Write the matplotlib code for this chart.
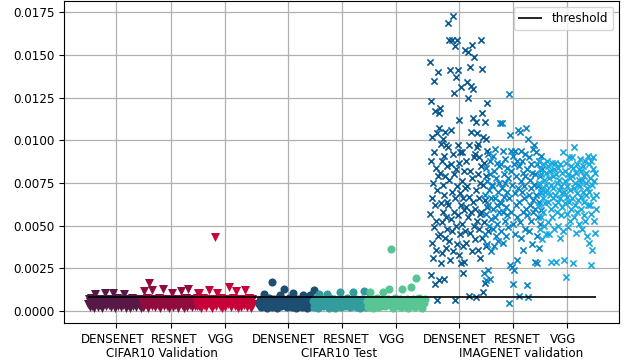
import numpy as np
import matplotlib.pyplot as plt
from matplotlib.ticker import FormatStrFormatter
from matplotlib.transforms import ScaledTranslation

models = ["DENSENET", "RESNET", "VGG"]
datasets = ["CIFAR10 Validation", "CIFAR10 Test", "IMAGENET validation"]
threshold = 0.00085

# scores, in units of 1e-4, listed roughly left to right in each strip
cifar_val_densenet = [4.2, 6.8, 2.1, 5.5, 7.4, 3.0, 6.1, 1.8, 10.0, 4.8,
                      7.0, 2.6, 5.2, 3.6, 6.6, 1.9, 7.3, 4.4, 10.5, 2.8,
                      6.0, 5.0, 3.3, 7.1, 2.2, 6.4, 10.5, 4.0, 1.7, 5.8,
                      7.5, 3.1, 4.6, 6.9, 2.4, 5.3, 3.8, 10.2, 6.2, 2.0,
                      7.2, 4.9, 3.4, 6.7, 1.6, 5.6, 7.6, 2.9, 4.3, 6.3,
                      2.3, 7.0, 5.1, 3.7, 6.5, 1.9, 4.7, 7.3, 2.7, 5.9]
cifar_val_resnet = [5.4, 2.5, 12.0, 6.9, 3.9, 7.4, 1.8, 16.6, 4.6, 6.2,
                    12.3, 3.2, 5.7, 7.1, 2.2, 4.9, 6.6, 3.5, 7.5, 1.7,
                    5.3, 6.8, 12.9, 2.8, 4.2, 7.2, 3.0, 5.9, 1.9, 6.4,
                    4.5, 10.5, 2.4, 7.0, 3.7, 5.6, 6.1, 2.0, 4.8, 7.3,
                    11.9, 3.3, 6.5, 1.6, 5.0, 7.6, 2.6, 12.9, 4.1, 6.0,
                    3.6, 7.1, 2.1, 5.5, 6.7, 3.1, 4.4, 7.4, 10.7, 2.9]
cifar_val_vgg = [6.3, 2.7, 7.2, 10.7, 4.5, 1.9, 5.8, 7.5, 3.4, 6.0,
                 2.3, 4.9, 7.0, 12.3, 3.7, 5.5, 1.8, 6.7, 4.1, 7.3,
                 43.5, 2.9, 10.7, 5.2, 6.5, 3.2, 7.4, 1.7, 4.7, 6.1,
                 2.5, 5.6, 7.1, 3.9, 13.9, 6.6, 2.1, 4.3, 7.6, 5.0,
                 3.0, 11.5, 6.2, 1.9, 7.0, 4.6, 2.6, 5.9, 7.3, 3.5,
                 12.3, 6.4, 2.2, 4.9, 7.5, 3.8, 5.4, 1.8, 6.8, 4.0]

cifar_test_densenet = [4.0, 6.6, 2.3, 7.2, 5.1, 10.0, 3.0, 6.2, 1.9, 5.6,
                       7.4, 3.6, 4.7, 17.2, 2.5, 6.9, 5.3, 3.3, 7.1, 1.8,
                       6.0, 4.4, 9.5, 2.8, 5.8, 7.3, 12.9, 3.9, 6.4, 2.1,
                       5.0, 7.5, 3.4, 6.1, 2.6, 10.4, 4.6, 7.0, 1.7, 5.5,
                       6.8, 3.1, 4.9, 7.3, 2.4, 9.5, 5.9, 3.7, 6.5, 2.0,
                       4.3, 7.1, 5.2, 9.5, 2.9, 6.3, 3.5, 12.3, 4.8, 7.0]
cifar_test_resnet = [5.7, 2.4, 7.0, 4.1, 6.4, 1.9, 9.8, 3.3, 5.4, 7.3,
                     2.7, 4.8, 6.7, 3.6, 9.8, 5.9, 2.0, 7.4, 4.3, 6.1,
                     3.0, 5.1, 7.2, 1.8, 4.6, 6.5, 3.8, 5.6, 11.0, 2.5,
                     7.1, 4.0, 6.3, 2.9, 5.3, 7.5, 3.4, 6.0, 2.2, 4.9,
                     6.8, 11.3, 3.1, 5.8, 7.2, 2.6, 4.4, 6.2, 1.7, 5.0,
                     7.0, 3.7, 11.7, 6.6, 2.3, 4.7, 5.5, 7.4, 3.2, 6.0]
cifar_test_vgg = [6.1, 2.6, 7.3, 11.3, 4.5, 5.8, 1.9, 6.9, 3.5, 5.2,
                  7.5, 2.2, 4.8, 6.4, 3.1, 7.0, 11.3, 5.5, 2.7, 6.2,
                  4.1, 7.2, 12.7, 3.4, 36.2, 5.9, 1.8, 6.7, 4.4, 7.4,
                  2.9, 5.3, 6.0, 3.8, 7.1, 2.3, 12.7, 4.7, 6.6, 3.0,
                  5.6, 7.3, 2.0, 4.2, 6.3, 14.2, 3.6, 7.0, 5.0, 2.5,
                  19.5, 6.8, 4.0, 7.5, 3.2, 5.7, 1.9, 6.5, 4.6, 7.2]

imagenet_densenet = [146, 57, 88, 21, 123, 66, 40, 102, 75, 31, 135, 49, 93, 16, 62, 117, 36, 84, 53, 6.4,
                     104, 71, 44, 140, 79, 18, 116,
                     107, 45, 81, 119, 28, 63, 98, 52, 88, 34, 74, 101, 58, 18.7, 91, 68, 43, 105, 79, 37,
                     55, 97, 64, 48, 85,
                     169, 62, 96, 41, 159, 77, 30, 141, 54, 106, 86, 159, 47, 70, 173, 35, 92, 128, 58, 80,
                     6.4, 155, 66, 137, 50, 83, 159, 39, 73, 97,
                     141, 56, 87, 33, 112, 69, 45, 93, 62, 28, 131, 76, 51, 93, 38, 66, 22, 82, 59, 29, 72, 47,
                     153, 61, 88, 40, 134, 73, 152, 55, 125, 8.8, 97, 67, 143, 46, 82, 132, 58, 105, 35, 156,
                     78, 113, 64, 130, 50, 90,
                     149, 60, 92, 42, 111, 71, 8.2, 104, 53, 96, 80, 36, 98, 66, 48, 90, 57, 75, 31, 85,
                     159, 58, 116, 43, 142, 74, 102, 11, 87, 52, 111, 65, 16.4, 101, 79, 38, 122, 61, 94, 47]
imagenet_resnet = [22, 68, 45, 84, 18, 57, 76, 39, 92, 62, 24, 71, 50, 88, 19, 80, 54, 66, 35, 74,
                   73, 48, 91, 60, 38, 82, 66, 55, 95, 44, 78, 62, 87, 51, 70, 41, 85, 58, 75, 64,
                   110, 63, 86, 47, 110, 72, 58, 94, 40, 80, 67, 53, 89, 75, 44, 61, 84, 70, 56, 78, 49,
                   127, 4.5, 66, 103, 27, 82, 94, 58, 26, 74, 15.8, 91, 51, 86, 24, 69, 94, 45, 79, 62, 30,
                   88, 55, 72,
                   106, 64, 9, 85, 105, 52, 76, 94, 43, 70, 88, 58, 81, 36, 73, 66, 92, 48, 79, 60,
                   107, 56, 15.2, 83, 101, 8.4, 68, 90, 47, 77, 62, 86, 53, 72, 39, 81, 65, 95, 58, 74,
                   97, 60, 80, 29, 93, 68, 44, 86, 28, 73, 55, 88, 64, 37, 79, 51, 91, 70, 59, 83]
imagenet_vgg = [88, 62, 75, 48, 83, 69, 55, 80, 42, 72, 66, 86, 58, 77, 50, 70, 63, 81, 45, 74,
                88, 71, 52, 85, 64, 78, 45, 82, 68, 29, 74, 60, 87, 55, 79, 66, 72, 48, 83, 62,
                87, 68, 29, 80, 58, 75, 64, 84, 50, 71, 77, 43, 86, 66, 73, 56, 81, 61, 69, 47,
                93, 70, 30, 82, 63, 76, 20, 87, 57, 73, 67, 80, 49, 90, 64, 78, 53, 71, 85, 60,
                90, 66, 79, 28, 84, 72, 55, 96, 62, 75, 81, 46, 69, 86, 58, 74, 65, 83, 51, 77,
                89, 73, 60, 82, 67, 77, 48, 85, 70, 56, 79, 64, 88, 53, 75, 68, 81, 44, 72, 62,
                91, 70, 40, 86, 62, 78, 27, 88, 57, 74, 36, 83, 66, 90, 53, 76, 46, 81, 68, 60]

scores = [
    [cifar_val_densenet, cifar_val_resnet, cifar_val_vgg],
    [cifar_test_densenet, cifar_test_resnet, cifar_test_vgg],
    [imagenet_densenet, imagenet_resnet, imagenet_vgg],
]
palettes = [
    ["#581845", "#900C3F", "#C70039"],
    ["#1d4e72", "#339c9c", "#57c594"],
    ["#0a5a91", "#0c84c4", "#18a9de"],
]
markers = ["v", "o", "x"]
sizes = [42, 34, 20]
group_start = [0, 3.16, 6.32]
group_label_x = [0.84, 4.11, 7.46]
label_shift = [-2.7, 3.0, -2.7]  # points, nudges the model names like the original

plt.rcParams["font.size"] = 8.6
fig = plt.figure(figsize=(6.33, 3.63), dpi=100)
ax = fig.add_axes([64 / 633, 40 / 363, 555 / 633, 322 / 363])
ax.set_axisbelow(True)
ax.grid(True, color="#b0b0b0", lw=0.9)

ticks = []
all_x = []
for g in range(3):
    for m in range(3):
        center = group_start[g] + m
        ticks.append(center)
        y = np.array(scores[g][m]) * 1e-4
        x = center + np.linspace(-0.53, 0.53, len(y))
        all_x.append(x)
        if markers[g] == "x":
            ax.scatter(x, y, s=sizes[g], marker="x", color=palettes[g][m], linewidths=1.2)
        else:
            ax.scatter(x, y, s=sizes[g], marker=markers[g], color=palettes[g][m], linewidths=0)

all_x = np.concatenate(all_x)
ax.hlines(threshold, all_x.min(), all_x.max(), color="black", lw=1.2, label="threshold", zorder=5)

ax.set_xticks(ticks)
ax.set_xticklabels(models * 3)
for i, lab in enumerate(ax.get_xticklabels()):
    lab.set_transform(lab.get_transform() + ScaledTranslation(label_shift[i % 3] / 72, 0, fig.dpi_scale_trans))
for g in range(3):
    ax.annotate(datasets[g], xy=(group_label_x[g], 0), xycoords=("data", "axes fraction"),
                xytext=(0, -17), textcoords="offset points", ha="center", va="top")

ax.set_yticks(np.arange(0, 0.0176, 0.0025))
ax.yaxis.set_major_formatter(FormatStrFormatter("%.4f"))
ax.set_xlim(-0.965, 9.275)
ax.set_ylim(-0.0007, 0.01816)
ax.legend(loc="upper right")

fig.savefig("out.png", dpi=100)
